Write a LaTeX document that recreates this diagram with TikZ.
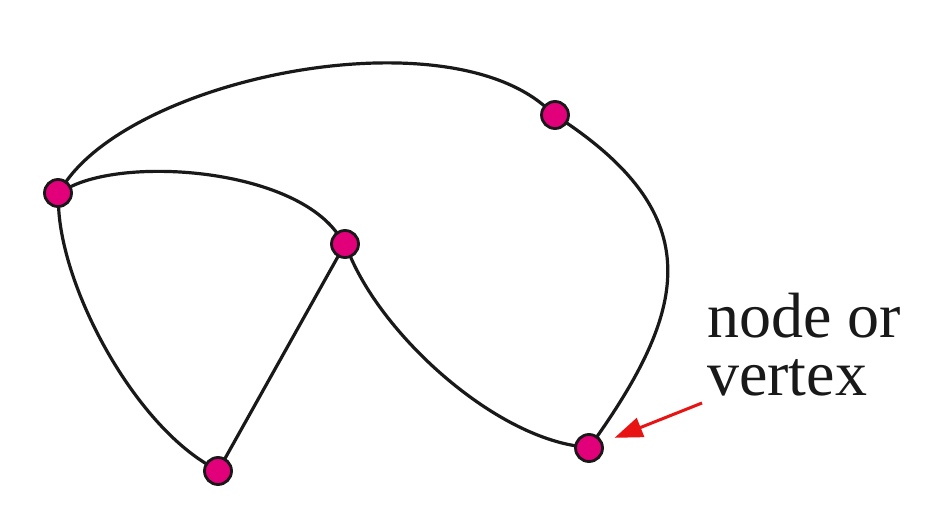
\documentclass[tikz,border=0pt]{standalone}
\usepackage{fontspec}
\setmainfont{Liberation Serif}
\usetikzlibrary{arrows.meta}
\definecolor{vfill}{RGB}{226,0,122}
\definecolor{arrowred}{RGB}{232,20,20}
\definecolor{edgecol}{RGB}{25,25,25}
\begin{document}
\begin{tikzpicture}[x=1pt,y=1pt,
  vertex/.style={circle,draw=edgecol,fill=vfill,line width=2.8pt,minimum size=27pt,inner sep=0pt,outer sep=0pt},
  edge/.style={draw=edgecol,line width=3.2pt},
  pointer/.style={draw=arrowred,line width=3pt,-{Triangle[length=28pt,width=20pt]},shorten >=14pt},
  label/.style={font=\fontsize{64}{58}\selectfont,align=left,inner sep=0pt,text=edgecol}]
\useasboundingbox (0,0) rectangle (928,507);
\fill[white] (0,0) rectangle (928,507);
\node[vertex] (A) at (58,314) {};
\node[vertex] (B) at (555,392) {};
\node[vertex] (C) at (345,263) {};
\node[vertex] (D) at (218,36) {};
\node[vertex] (E) at (589,59) {};
\draw[edge] (A) .. controls (140,430) and (440,490) .. (B);
\draw[edge] (B) .. controls (705,290) and (688,200) .. (E);
\draw[edge] (A) .. controls (130,350) and (290,338) .. (C);
\draw[edge] (A) .. controls (62,220) and (130,90) .. (D);
\draw[edge] (C) -- (D);
\draw[edge] (C) .. controls (385,170) and (490,75) .. (E);
\node[label,anchor=base west] (L) at (707,112) {node or\\vertex};
\coordinate (s) at (702,104);
\draw[pointer] (s) -- (E);
\end{tikzpicture}
\end{document}
